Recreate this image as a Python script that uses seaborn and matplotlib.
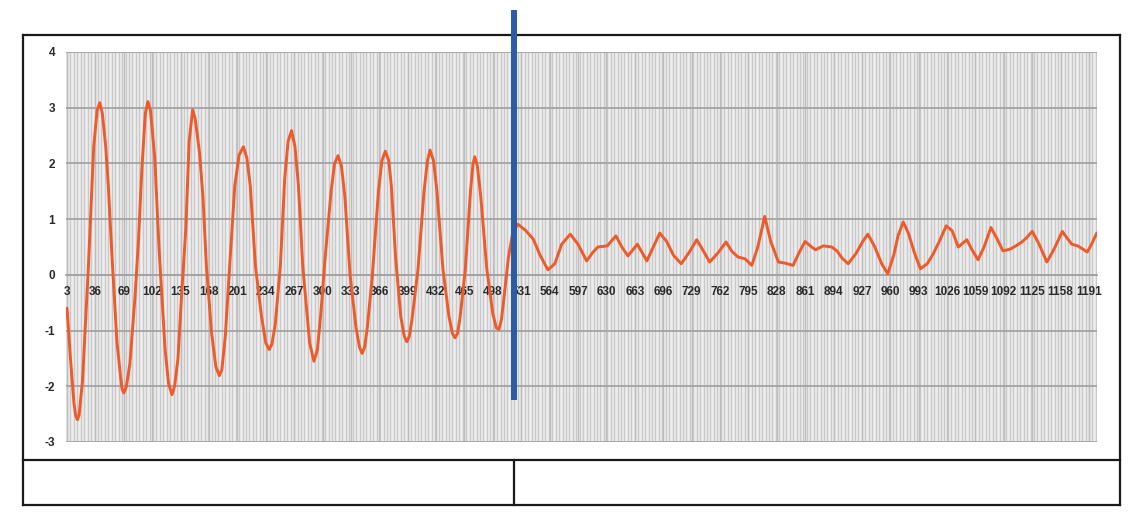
import matplotlib
matplotlib.use("Agg")
import matplotlib.pyplot as plt
import seaborn as sns
import pandas as pd
from matplotlib.lines import Line2D

# ---- data (category index, value) ----
x_vals = [3, 7, 11, 13, 15, 17, 21, 28, 34, 38, 41, 44, 48, 51, 55, 61, 65,
          67, 69, 72, 76, 82, 86, 90, 94, 97, 100, 105, 110, 117, 121, 125,
          128, 132, 136, 141, 145, 149, 152, 157, 161, 165, 171, 176, 180,
          183, 187, 191, 198, 203, 208, 212, 216, 222, 229, 234, 238, 241,
          245, 251, 256, 260, 264, 268, 272, 277, 285, 290, 294, 298, 303,
          310, 314, 318, 322, 326, 332, 339, 343, 346, 349, 352, 358, 365,
          369, 373, 377, 380, 385, 391, 395, 398, 401, 404, 411, 418, 422,
          425, 429, 433, 440, 447, 451, 454, 457, 460, 466, 472, 475, 477,
          480, 484, 491, 498, 502, 505, 508, 511, 516, 521, 527,
          536, 545, 553, 562, 570, 578, 588, 597, 607, 614, 620, 631, 641,
          648, 655, 666, 677, 686, 692, 700, 708, 717, 726, 735, 742, 750,
          760, 769, 776, 783, 791, 799, 806, 814, 821, 830, 838, 847, 854,
          861, 867, 873, 882, 892, 898, 904, 911, 920, 928, 934, 942, 950,
          957, 964, 969, 975, 981, 988, 995, 1003, 1010, 1017, 1025, 1032,
          1039, 1049, 1055, 1062, 1069, 1077, 1084, 1091, 1099, 1106, 1113,
          1118, 1125, 1133, 1142, 1150, 1160, 1166, 1171, 1178, 1189, 1194,
          1200]
y_vals = [-0.6, -1.5, -2.3, -2.52, -2.6, -2.52, -1.9, 0.2, 2.3, 2.95, 3.09,
          2.9, 2.3, 1.6, 0.4, -1.2, -1.8, -2.05, -2.12, -2.0, -1.6, -0.4, 0.6,
          1.9, 2.9, 3.11, 2.95, 2.1, 0.46, -1.34, -1.95, -2.15, -2.0, -1.5,
          -0.4, 0.8, 2.4, 2.96, 2.8, 2.2, 1.4, 0.16, -1.04, -1.65, -1.81,
          -1.7, -1.1, -0.1, 1.6, 2.15, 2.3, 2.1, 1.6, 0.16, -0.74, -1.22,
          -1.34, -1.25, -0.9, 0.16, 1.72, 2.4, 2.59, 2.3, 1.6, 0.16, -1.22,
          -1.55, -1.35, -0.7, 0.3, 1.5, 2.0, 2.14, 1.95, 1.4, 0.0, -0.95,
          -1.3, -1.41, -1.3, -0.95, 0.0, 1.5, 2.05, 2.22, 2.05, 1.6, 0.3,
          -0.75, -1.1, -1.2, -1.1, -0.8, 0.1, 1.5, 2.05, 2.24, 2.05, 1.5,
          0.1, -0.75, -1.05, -1.13, -1.05, -0.75, 0.1, 1.5, 2.0, 2.12, 1.95,
          1.4, 0.1, -0.7, -0.95, -0.98, -0.8, -0.4, 0.3, 0.75, 0.91,
          0.8, 0.64, 0.35, 0.09, 0.2, 0.55, 0.73, 0.55, 0.25, 0.4, 0.5, 0.52, 0.7,
          0.5, 0.34, 0.55, 0.25, 0.55, 0.75, 0.6, 0.35, 0.2, 0.4, 0.63, 0.45, 0.23,
          0.4, 0.59, 0.42, 0.32, 0.29, 0.17, 0.5, 1.05, 0.6, 0.23, 0.21, 0.17, 0.4,
          0.6, 0.52, 0.45, 0.52, 0.5, 0.43, 0.3, 0.2, 0.38, 0.6, 0.73, 0.5, 0.2,
          0.02, 0.35, 0.7, 0.95, 0.75, 0.4, 0.11, 0.2, 0.38, 0.6, 0.88, 0.79,
          0.5, 0.63, 0.45, 0.27, 0.5, 0.85, 0.65, 0.43, 0.46, 0.52, 0.59,
          0.66, 0.78, 0.55, 0.23, 0.45, 0.78, 0.65, 0.55, 0.52, 0.41, 0.55,
          0.75]
x_tick_labels = [3, 36, 69, 102, 135, 168, 201, 234, 267, 300, 333, 366, 399,
                 432, 465, 498, 531, 564, 597, 630, 663, 696, 729, 762, 795,
                 828, 861, 894, 927, 960, 993, 1026, 1059, 1092, 1125, 1158, 1191]
y_tick_values = [-3, -2, -1, 0, 1, 2, 3, 4]

df = pd.DataFrame({"x": x_vals, "y": y_vals})

sns.set_theme(style="white")
plt.rcParams['font.family'] = ['Liberation Sans', 'DejaVu Sans']

W, H = 1140, 524
fig = plt.figure(figsize=(W / 100, H / 100), dpi=100)
fig.patch.set_facecolor("white")

ax = fig.add_axes([66 / W, (H - 442) / H, 1031 / W, 390 / H])
ax.set_facecolor("#eeeeee")

# dense category gridlines (background stripes), kept below the tick labels
ax.vlines(list(range(3, 1201, 4)), -3, 4, colors="#c9c9c9", linewidth=1.0, zorder=0.2)

sns.lineplot(data=df, x="x", y="y", ax=ax, color="#ef5a2a", linewidth=2.1,
             estimator=None, sort=False, zorder=5)

ax.set_xlim(1.8, 1200.3)
ax.set_ylim(-3, 4)
ax.set_xticks(x_tick_labels)
ax.set_xticklabels([str(v) for v in x_tick_labels])
ax.set_yticks(y_tick_values)
ax.set_yticklabels([str(v) for v in y_tick_values])
ax.set_xlabel("")
ax.set_ylabel("")

ax.set_axisbelow(True)
ax.grid(which="major", axis="x", color="#bdbdbd", linewidth=1.0)
ax.grid(which="major", axis="y", color="#a3a3a3", linewidth=1.3)

for s in ["top", "right", "left"]:
    ax.spines[s].set_visible(False)
ax.spines["bottom"].set_position(("data", 0))
ax.spines["bottom"].set_color("#a3a3a3")
ax.spines["bottom"].set_linewidth(1.3)

ax.tick_params(axis="x", which="both", length=0, pad=8, labelsize=8.5, labelcolor="#2a2a2a")
ax.tick_params(axis="y", which="both", length=0, pad=8, labelsize=8.5, labelcolor="#2a2a2a")
for lab in ax.get_xticklabels() + ax.get_yticklabels():
    lab.set_fontweight("bold")


def fx(px):
    return px / W


def fy(py):
    return 1 - py / H


black = "#1a1a1a"
lw_box = 1.6
# outer table frame
for (x0, y0, x1, y1) in [(23, 35, 1120, 35), (23, 505, 1120, 505),
                         (23, 35, 23, 505), (1120, 35, 1120, 505),
                         (23, 460, 1120, 460), (514, 460, 514, 505)]:
    fig.add_artist(Line2D([fx(x0), fx(x1)], [fy(y0), fy(y1)],
                          transform=fig.transFigure, color=black,
                          linewidth=lw_box, solid_capstyle="projecting"))

# blue separator marker
fig.add_artist(Line2D([fx(514), fx(514)], [fy(10), fy(400)],
                      transform=fig.transFigure, color="#2b5ca8",
                      linewidth=4.3, solid_capstyle="butt", zorder=10))

fig.savefig("out.png", dpi=100)
